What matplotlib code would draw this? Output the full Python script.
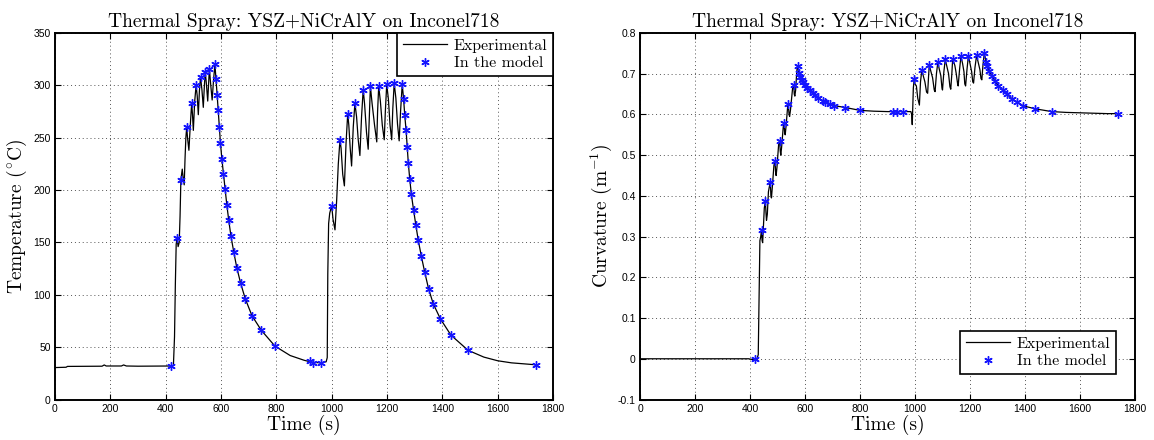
import matplotlib
matplotlib.use("Agg")
import matplotlib.pyplot as plt

plt.rcParams['mathtext.fontset'] = 'cm'
plt.rcParams['axes.unicode_minus'] = False

# ---------------- data ----------------
title_text = "Thermal Spray: YSZ+NiCrAlY on Inconel718"
x_ticks = [0, 200, 400, 600, 800, 1000, 1200, 1400, 1600, 1800]
temp_ticks = [0, 50, 100, 150, 200, 250, 300, 350]
curv_ticks = [-0.1, 0, 0.1, 0.2, 0.3, 0.4, 0.5, 0.6, 0.7, 0.8]
curv_tick_labels = ["-0.1", "0", "0.1", "0.2", "0.3", "0.4", "0.5", "0.6", "0.7", "0.8"]

# Temperature, experimental
t_temp_exp = [0, 40, 45, 170, 178, 185, 240, 248, 258, 300, 420, 428, 432, 435, 438, 441, 445, 449,
              452, 455, 460, 463, 467, 470, 473, 476, 479, 484, 489, 494, 497, 500, 505, 510, 514,
              518, 522, 526, 531, 536, 540, 543, 547, 552, 555, 558, 563, 568, 573, 578,
              582, 586, 590, 594, 598, 603, 609, 615, 621, 628, 636, 646, 657, 671, 688, 712, 746,
              795, 850, 900, 930, 960, 980,
              984, 986, 989, 993, 1000, 1005, 1012, 1018, 1024, 1030, 1034, 1040, 1046, 1052, 1058,
              1062, 1067, 1072, 1078, 1084, 1090, 1096, 1102, 1108, 1114, 1119, 1126, 1132, 1136,
              1140, 1146, 1155, 1163, 1166, 1170, 1176, 1183, 1190, 1194, 1199, 1205, 1211, 1217,
              1221, 1226, 1232, 1238, 1244, 1249, 1255,
              1260, 1264, 1269, 1273, 1277, 1282, 1288, 1296, 1304, 1313, 1324, 1336, 1350, 1367,
              1393, 1431, 1493, 1550, 1600, 1650, 1700, 1745]
temp_exp = [30.5, 30.8, 31.6, 31.8, 33, 32, 32, 33, 32, 31.8, 32, 32.5, 60, 110, 148, 155, 146, 150,
            175, 210, 220, 212, 205, 230, 250, 260, 250, 238, 262, 283, 272, 257, 285, 300, 290,
            272, 295, 308, 296, 279, 300, 313, 302, 285, 300, 316, 300, 286, 305, 320,
            306, 291, 276, 260, 245, 230, 215, 201, 186, 171, 156, 141, 126, 111, 96, 80, 66,
            51, 42, 37.5, 35.5, 35, 36,
            40, 120, 168, 178, 185, 172, 162, 190, 225, 248, 240, 215, 204, 245, 273,
            262, 240, 223, 260, 283, 270, 248, 233, 270, 296, 282, 255, 239, 270,
            299, 283, 262, 246, 275, 299, 285, 262, 248, 275, 301, 287, 262, 248,
            278, 302, 288, 263, 247, 275, 301,
            287, 272, 257, 241, 226, 211, 196, 181, 167, 152, 137, 122, 106, 91.5,
            77, 61.5, 47, 40.5, 37, 35, 34, 33]

# Temperature, model points
t_temp_model = [418, 440, 455, 476, 494, 510, 526, 543, 558, 578,
                582, 586, 590, 594, 598, 603, 609, 615, 621, 628, 636, 646, 657, 671, 688, 712,
                746, 795, 920, 932, 962,
                1002, 1030, 1058, 1084, 1114, 1140, 1170, 1199, 1226, 1255,
                1260, 1264, 1269, 1273, 1277, 1282, 1288, 1296, 1304, 1313, 1324, 1336, 1350, 1367,
                1393, 1431, 1493, 1740]
temp_model = [32, 154, 210, 260, 283, 300, 308, 313, 316, 320,
              306, 291, 276, 260, 245, 230, 215, 201, 186, 171, 156, 141, 126, 111, 96, 80,
              66, 51, 36.5, 35, 35,
              185, 248, 273, 283, 296, 299, 299, 301, 302, 301,
              287, 272, 257, 241, 226, 211, 196, 181, 167, 152, 137, 122, 106, 91.5,
              77, 61.5, 47, 33]

# Curvature, experimental
t_curv_exp = [0, 200, 395, 410, 425, 430, 433, 436, 439, 442, 444, 446, 449, 452, 456, 458, 460, 463,
              467, 471, 474, 476, 478, 481, 487, 491, 493, 495, 498, 504, 508, 510, 512, 515, 521,
              524, 526, 528, 531, 537, 539, 542, 544, 547, 555, 559, 561, 563, 566, 570, 573,
              578, 588, 600, 618, 636, 664, 691, 720, 747, 800, 850, 900, 960, 985,
              988, 990, 992, 994, 997, 1000, 1005, 1010, 1016, 1020, 1025, 1030, 1036, 1042, 1046,
              1049, 1052, 1058, 1064, 1070, 1073, 1078, 1083, 1088, 1094, 1098, 1100, 1105, 1110,
              1116, 1122, 1127, 1130, 1134, 1137, 1145, 1150, 1155, 1157, 1162, 1167, 1173, 1178,
              1181, 1184, 1189, 1194, 1200, 1206, 1210, 1213, 1218, 1224, 1230, 1236, 1240, 1243,
              1247, 1252,
              1258, 1263, 1270, 1279, 1291, 1303, 1319, 1333, 1352, 1370, 1394, 1436, 1497, 1550,
              1600, 1650, 1700, 1745]
curv_exp = [0, 0, 0, -0.002, -0.001, 0.01, 0.15, 0.29, 0.30, 0.317, 0.29, 0.285, 0.33, 0.37, 0.388,
            0.36, 0.34, 0.355, 0.41, 0.425, 0.433, 0.40, 0.395, 0.42, 0.475, 0.486, 0.46, 0.45, 0.47,
            0.525, 0.535, 0.51, 0.50, 0.52, 0.57, 0.579, 0.555, 0.55, 0.57, 0.62, 0.626, 0.60,
            0.595, 0.61, 0.665, 0.673, 0.65, 0.645, 0.66, 0.705, 0.72,
            0.702, 0.685, 0.673, 0.659, 0.647, 0.634, 0.626, 0.62, 0.617, 0.610, 0.608, 0.607,
            0.607, 0.607,
            0.60, 0.575, 0.62, 0.665, 0.687, 0.675, 0.67, 0.64, 0.623, 0.68, 0.71, 0.695, 0.68,
            0.655, 0.652, 0.69, 0.722, 0.705, 0.69, 0.66, 0.656, 0.70, 0.728, 0.712, 0.695, 0.665,
            0.66, 0.705, 0.735, 0.718, 0.70, 0.668, 0.662, 0.70, 0.737, 0.72, 0.70, 0.675, 0.67,
            0.71, 0.743, 0.725, 0.705, 0.675, 0.67, 0.71, 0.743, 0.725, 0.705, 0.68, 0.677, 0.715,
            0.745, 0.728, 0.71, 0.688, 0.685, 0.72, 0.751,
            0.73, 0.718, 0.706, 0.694, 0.682, 0.671, 0.661, 0.65, 0.639, 0.631, 0.621, 0.614,
            0.607, 0.605, 0.604, 0.603, 0.602, 0.602]

# Curvature, model points
t_curv_model = [418, 442, 456, 474, 491, 508, 524, 539, 559, 573,
                578, 582, 588, 594, 600, 608, 618, 628, 636, 648, 664, 673, 691, 707, 747, 800,
                921, 933, 957,
                997, 1025, 1052, 1083, 1110, 1137, 1167, 1194, 1224, 1252,
                1258, 1263, 1270, 1279, 1291, 1303, 1319, 1333, 1352, 1370, 1394, 1436, 1497, 1739]
curv_model = [0.0, 0.317, 0.388, 0.433, 0.486, 0.535, 0.579, 0.626, 0.673, 0.72,
              0.702, 0.693, 0.685, 0.679, 0.673, 0.666, 0.659, 0.653, 0.647, 0.640, 0.634, 0.630,
              0.626, 0.621, 0.617, 0.610,
              0.607, 0.607, 0.607,
              0.687, 0.71, 0.722, 0.728, 0.735, 0.737, 0.743, 0.743, 0.745, 0.751,
              0.73, 0.718, 0.706, 0.694, 0.682, 0.671, 0.661, 0.65, 0.639, 0.631, 0.621, 0.614,
              0.607, 0.602]

# ---------------- figure ----------------
W, H = 1154, 440
fig = plt.figure(figsize=(W / 100, H / 100), dpi=100)
ax1 = fig.add_axes([55 / W, 40.5 / H, 498 / W, 366.5 / H])
ax2 = fig.add_axes([640 / W, 40.5 / H, 495 / W, 366.5 / H])

serif = 'cmr10'
asterisk = (6, 2, 0)
mcolor = '#1414ff'


def style(ax):
    for s in ax.spines.values():
        s.set_linewidth(1.4)
        s.set_color('black')
    ax.tick_params(direction='in', top=True, right=True, length=4, width=0.8,
                   labelsize=7.5, labelfontfamily='Liberation Sans', pad=3)
    ax.grid(True, linestyle=(0, (1, 3)), color='#555555', linewidth=0.7)
    ax.set_axisbelow(True)
    ax.set_xlim(0, 1800)
    ax.set_xticks(x_ticks)
    ax.set_xlabel("Time (s)", family=serif, fontsize=14, labelpad=1)
    ax.set_title(title_text, family=serif, fontsize=14, pad=4)


# left: temperature
l1, = ax1.plot(t_temp_exp, temp_exp, color='black', lw=0.9, label='Experimental')
m1, = ax1.plot(t_temp_model, temp_model, linestyle='none', marker=asterisk, ms=6, mew=1.0,
               color=mcolor, label='In the model')
style(ax1)
ax1.set_ylim(0, 350)
ax1.set_yticks(temp_ticks)
ax1.set_ylabel(r"Temperature ($^{\circ}$C)", family=serif, fontsize=14, labelpad=3)
leg1 = ax1.legend(loc='upper right', bbox_to_anchor=(1, 1), borderaxespad=0,
                  prop={'family': serif, 'size': 11.5}, fancybox=False, framealpha=1,
                  edgecolor='black', handlelength=2.8, borderpad=0.35, labelspacing=0.2,
                  handletextpad=0.4)
leg1.get_frame().set_linewidth(1.2)

# right: curvature
l2, = ax2.plot(t_curv_exp, curv_exp, color='black', lw=0.9, label='Experimental')
m2, = ax2.plot(t_curv_model, curv_model, linestyle='none', marker=asterisk, ms=6, mew=1.0,
               color=mcolor, label='In the model')
style(ax2)
ax2.set_ylim(-0.1, 0.8)
ax2.set_yticks(curv_ticks)
ax2.set_yticklabels(curv_tick_labels)
ax2.set_ylabel(r"Curvature (m$^{-1}$)", family=serif, fontsize=14, labelpad=3)
leg2 = ax2.legend(loc='lower right', bbox_to_anchor=(0.9616, 0.0696), borderaxespad=0,
                  prop={'family': serif, 'size': 11.5}, fancybox=False, framealpha=1,
                  edgecolor='black', handlelength=2.8, borderpad=0.35, labelspacing=0.2,
                  handletextpad=0.4)
leg2.get_frame().set_linewidth(1.2)

fig.savefig('out.png', dpi=100)
